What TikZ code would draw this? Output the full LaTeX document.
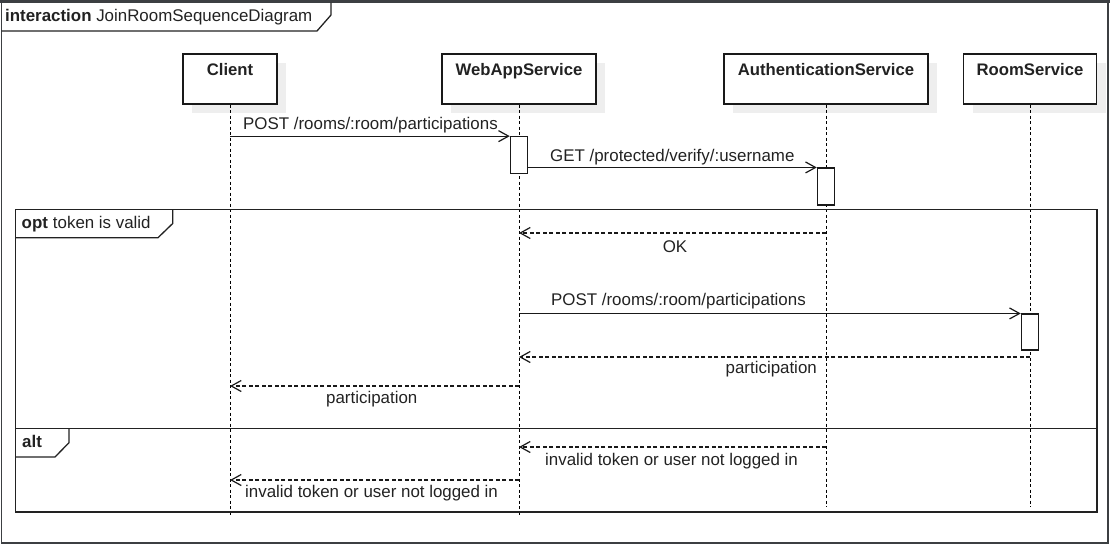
\documentclass[tikz,border=0pt]{standalone}
\usepackage{fontspec}
\setmainfont{Liberation Sans}
\usetikzlibrary{arrows.meta,calc,shadows}
\definecolor{framecol}{HTML}{222222}
\definecolor{outercol}{HTML}{3C3F42}
\definecolor{shadowcol}{HTML}{EEEEEE}
\definecolor{txtcol}{HTML}{222222}
\tikzset{
  every node/.style={font=\fontsize{16.9}{19}\selectfont, inner sep=0pt, text=txtcol},
  participant/.style={draw=black!90, line width=1.3pt, fill=white, minimum height=50pt, inner sep=0pt,
    general shadow={shadow xshift=9pt, shadow yshift=-9pt, fill=shadowcol}},
  plabel/.style={anchor=base, font=\fontsize{16.7}{19}\selectfont\bfseries},
  lifeline/.style={draw=black, line width=1pt, dash pattern=on 3pt off 2.5pt},
  actbar/.style={draw=black!90, line width=1.1pt, fill=white, minimum width=17.4pt, inner sep=0pt},
  callmsg/.style={draw=black!90, line width=1.25pt, -{Straight Barb[length=10pt,width=11pt,line width=1.2pt]}},
  retmsg/.style={callmsg, dash pattern=on 4pt off 2.5pt},
  msglabel/.style={anchor=base west},
  framebox/.style={draw=framecol, line width=1.3pt},
  outerbox/.style={draw=outercol, line width=1.5pt},
}
\begin{document}
\begin{tikzpicture}[x=1pt,y=-1pt]
\useasboundingbox (0,0) rectangle (1110,546);
% outer interaction frame
\draw[outerbox] (1.5,1.5) rectangle (1108,543);
\draw[draw=outercol, line width=3pt] (0,1.5) -- (1110,1.5);
\draw[framebox] (1.5,31) -- (317,31) -- (331,15) -- (331,2.5);
\node[anchor=base west] (title) at (5,21) {\textbf{interaction} JoinRoomSequenceDiagram};

% participants
\node[participant, minimum width=94pt] (client) at (230,79) {};
\node[participant, minimum width=154pt] (webapp) at (519,79) {};
\node[participant, minimum width=204pt] (auth) at (826,79) {};
\node[participant, minimum width=133pt] (room) at (1030,79) {};
\node[plabel] (clientlbl) at ($(client.north)+(0,22)$) {Client};
\node[plabel] (webapplbl) at ($(webapp.north)+(0,22)$) {WebAppService};
\node[plabel] (authlbl) at ($(auth.north)+(0,22)$) {AuthenticationService};
\node[plabel] (roomlbl) at ($(room.north)+(0,22)$) {RoomService};

% lifelines
\coordinate (clientend) at (230,515);
\coordinate (webappend) at (519,515);
\coordinate (authend) at (826,507);
\coordinate (roomend) at (1030,507);
\draw[lifeline] (client.south) -- (clientend);
\draw[lifeline] (webapp.south) -- (webappend);
\draw[lifeline] (auth.south) -- (authend);
\draw[lifeline] (room.south) -- (roomend);

% combined fragments
\draw[framebox] (15.7,209.3) rectangle (1097,428.3);
\draw[framebox] (15.7,237.7) -- (158,237.7) -- (172.7,223.5) -- (172.7,209.3);
\node[anchor=base west] (optlbl) at (21.5,228) {\textbf{opt}\hspace{5pt}token is valid};
\draw[framebox] (15.7,428.3) rectangle (1097,512);
\draw[framebox] (15.7,457) -- (55,457) -- (69,442.7) -- (69,428.3);
\node[anchor=base west] (altlbl) at (22,447) {\textbf{alt}};

% activation bars
\node[actbar, minimum height=36.6pt] (wa1) at (519,155) {};
\node[actbar, minimum height=37pt] (au1) at (826,186.5) {};
\node[actbar, minimum height=36pt] (rm1) at (1030,332) {};

% message levels
\coordinate (yok) at (0,233);
\coordinate (ypartA) at (0,357);
\coordinate (ypartB) at (0,386);
\coordinate (yinvA) at (0,447);
\coordinate (yinvB) at (0,480);

% messages
\draw[callmsg] (client.south |- wa1.north) -- (wa1.north west);
\node[msglabel] (m1) at (243,129) {POST /rooms/:room/participations};

\draw[callmsg] (wa1.east |- au1.north) -- (au1.north west);
\node[msglabel] (m2) at (550,161) {GET /protected/verify/:username};

\draw[retmsg] (auth.south |- yok) -- (webapp.south |- yok);
\node[anchor=base] (m3) at (675,252) {OK};

\draw[callmsg] (webapp.south |- rm1.north) -- (rm1.north west);
\node[msglabel] (m4) at (551,305) {POST /rooms/:room/participations};

\draw[retmsg] (room.south |- ypartA) -- (webapp.south |- ypartA);
\node[anchor=base east] (m5) at (817,373) {participation};

\draw[retmsg] (webapp.south |- ypartB) -- (client.south |- ypartB);
\node[msglabel] (m6) at (326,403) {participation};

\draw[retmsg] (auth.south |- yinvA) -- (webapp.south |- yinvA);
\node[msglabel] (m7) at (545,465) {invalid token or user not logged in};

\draw[retmsg] (webapp.south |- yinvB) -- (client.south |- yinvB);
\node[msglabel] (m8) at (245,497) {invalid token or user not logged in};
\end{tikzpicture}
\end{document}
